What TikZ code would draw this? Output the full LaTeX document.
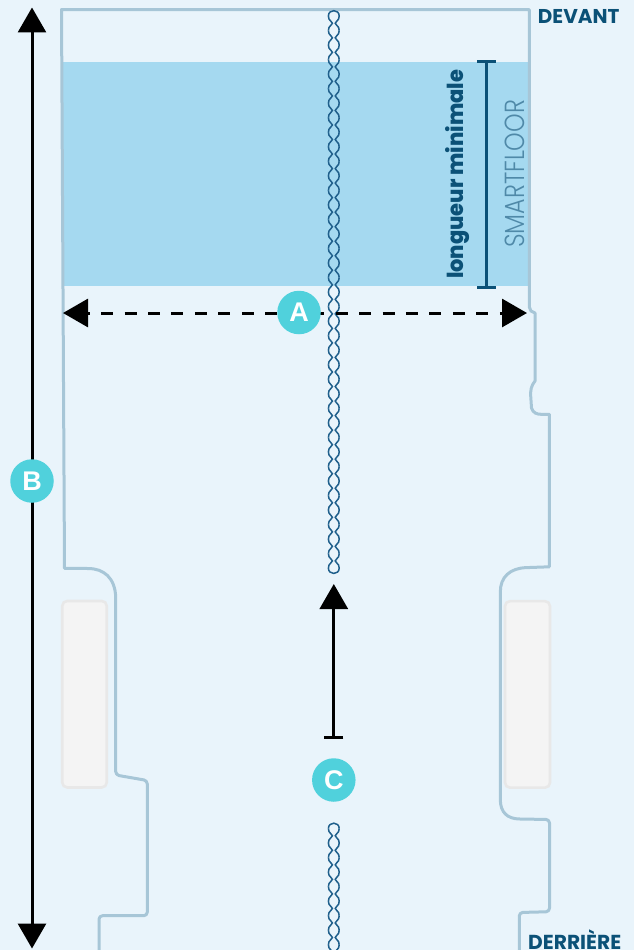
\documentclass[tikz,border=0pt]{standalone}
\usepackage{fontspec}
\usetikzlibrary{arrows.meta}
\setmainfont{Liberation Sans}
\newfontfamily\futbold{Poppins}[UprightFont=* Bold]
\newfontfamily\futheavy{Poppins}[UprightFont=* ExtraBold]
\newfontfamily\futlight{Poppins}[UprightFont=* Light]
\definecolor{pagebg}{HTML}{E9F4FB}
\definecolor{zonefill}{HTML}{A5D9F0}
\definecolor{outlinecol}{HTML}{A7C6D7}
\definecolor{navy}{HTML}{0B5177}
\definecolor{chaincol}{HTML}{1F5F8B}
\definecolor{teal}{HTML}{50D1DC}
\definecolor{softtext}{HTML}{4F89A8}
\definecolor{wheelfill}{HTML}{F4F4F4}
\definecolor{wheeledge}{HTML}{E8E8E8}
\tikzset{
  outlinepath/.style={draw=outlinecol,line width=3pt,line join=round},
  wheelbox/.style={draw=wheeledge,fill=wheelfill,line width=2.6pt,rounded corners=5pt},
  chainpath/.style={draw=chaincol,line width=1.5pt},
  badge/.style={circle,fill=teal,text=white,minimum size=43.5pt,inner sep=0pt,font=\fontsize{27}{27}\selectfont\bfseries},
  measure/.style={draw=black,line width=3pt},
  navybar/.style={draw=navy,line width=3pt}
}
\newcommand{\beadside}[1]{%
  \draw[chainpath,xscale=#1] (5.4,0) .. controls (5.4,2.2) and (4.6,4.2) .. (2.9,5.3) .. controls (1.9,5.95) and (1.4,6.5) .. (1.4,7.27) .. controls (1.4,8.03) and (1.9,8.58) .. (2.9,9.23) .. controls (4.6,10.33) and (5.4,12.33) .. (5.4,14.53);
}
\begin{document}
\begin{tikzpicture}[x=1pt,y=-1pt]
\useasboundingbox (0,0) rectangle (638,950);
\clip (0,0) rectangle (638,950);
\fill[pagebg] (0,0) rectangle (634,950);
\fill[zonefill] (63,62) rectangle (528,286);
% vehicle outline
\draw[outlinepath] (99,951) -- (99,920) [rounded corners=3.5pt] -- (99,915.7) -- (147.3,915.7) -- (147.3,780.5)  -- (115.7,775) [rounded corners=0pt] -- (115.7,597) .. controls (115,578) and (104,568.5) .. (88,568.5) -- (64.5,568.3) -- (61.5,9.6) -- (529.3,9.6) -- (529.3,307) -- (531,311) -- (535,313) -- (535,381) .. controls (531,386) and (530.5,390) .. (530.7,396) -- (531.5,408) .. controls (533,413) and (537,414.3) .. (541,414.3) -- (549.4,414.3) -- (549.4,566.8) -- (526.7,567.6) .. controls (510,568) and (500.3,577) .. (500.3,592) -- (500.3,800) .. controls (500.5,812) and (507,819) .. (520,819) [rounded corners=3.5pt] -- (549.5,819.5) -- (549.5,911.7) -- (519.3,912.5) -- (519.3,951);
\node[wheelbox,minimum width=44.5pt,minimum height=186.5pt,inner sep=0pt] (wheelL) at (84.5,694.2) {};
\node[wheelbox,minimum width=45pt,minimum height=186.5pt,inner sep=0pt] (wheelR) at (527.5,694.4) {};
% chains
\begin{scope}[shift={(333.8,16)}]
  \draw[chainpath] (-5.4,0) .. controls (-5.4,-7.1) and (5.4,-7.1) .. (5.4,0);
\end{scope}
\foreach \i in {0,...,37}{
  \begin{scope}[shift={(333.8,16+\i*14.53)}]
    \beadside{1}
    \beadside{-1}
  \end{scope}
}
\begin{scope}[shift={(333.8,568.1)}]
  \draw[chainpath] (-5.4,0) .. controls (-5.4,7.1) and (5.4,7.1) .. (5.4,0);
\end{scope}
\begin{scope}[shift={(333.8,828.5)}]
  \draw[chainpath] (-5.4,0) .. controls (-5.4,-7.1) and (5.4,-7.1) .. (5.4,0);
\end{scope}
\foreach \i in {0,...,8}{
  \begin{scope}[shift={(333.8,828.5+\i*14.53)}]
    \beadside{1}
    \beadside{-1}
  \end{scope}
}
% labels
\node[anchor=base west,inner sep=0pt,text=navy,font=\futbold] (devant) at (537.7,24) {\resizebox{81.5pt}{!}{DEVANT}};
\node[anchor=base west,inner sep=0pt,text=navy,font=\futbold] (derriere) at (528,949) {\resizebox{93pt}{!}{DERRIÈRE}};
\node[anchor=base west,inner sep=0pt,rotate=90,text=navy,font=\futheavy] (minlen) at (463.5,279) {\resizebox{209pt}{18pt}{longueur minimale}};
\node[anchor=base west,inner sep=0pt,rotate=90,text=softtext,font=\futlight] (smart) at (524,248) {\resizebox{148pt}{19.5pt}{SMARTFLOOR}};
% minimum length bar
\coordinate (barT) at (486.5,61.5);
\coordinate (barB) at (486.5,287);
\coordinate (barTl) at (477,61.5);
\coordinate (barTr) at (496,61.5);
\coordinate (barBl) at (477,287);
\coordinate (barBr) at (496,287);
\draw[navybar] (barT) -- (barB);
\draw[navybar] (barTl) -- (barTr);
\draw[navybar] (barBl) -- (barBr);
% measures
\coordinate (widthL) at (63,313);
\coordinate (widthR) at (527,313);
\draw[measure,dash pattern=on 12pt off 11.45pt,dash phase=9.6pt,{Triangle[width=28pt,length=25pt]}-{Triangle[width=28pt,length=25pt]}] (widthL) -- (widthR);
\coordinate (lenT) at (32,7.5);
\coordinate (lenB) at (32,948.5);
\draw[measure,{Triangle[width=28pt,length=25pt]}-{Triangle[width=28pt,length=25pt]}] (lenT) -- (lenB);
\coordinate (gapS) at (333.8,738.5);
\coordinate (gapE) at (333.8,584);
\draw[measure,{Bar[width=19pt,line width=3pt]}-{Triangle[width=28pt,length=25pt]}] (gapS) -- (gapE);
% badges
\node[badge] (badgeA) at (299,312.5) {A};
\node[badge] (badgeB) at (32,481) {B};
\node[badge] (badgeC) at (333.8,780) {C};
\end{tikzpicture}
\end{document}
